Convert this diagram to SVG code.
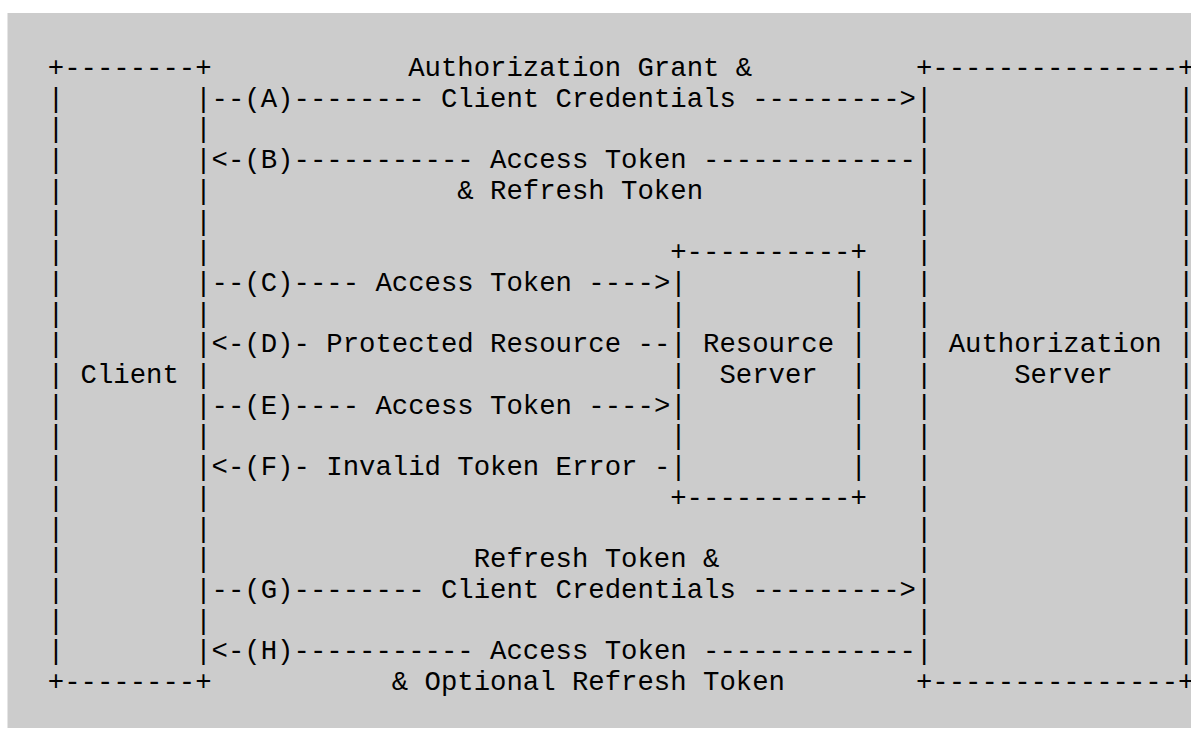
<svg xmlns="http://www.w3.org/2000/svg" width="1191" height="729" viewBox="0 0 1191 729">
  <style>
    .t { font-family: "Liberation Mono", "DejaVu Sans Mono", monospace; font-size: 27.3px; fill: #000000; white-space: pre; }
  </style>
  <rect x="7.5" y="13" width="1184" height="715" fill="#cccccc"/>
  <g id="client">
    <text class="t" xml:space="preserve">
      <tspan x="47.8" y="76">+--------+</tspan>
      <tspan x="47.8" y="106.7">|        |</tspan>
      <tspan x="47.8" y="137.4">|        |</tspan>
      <tspan x="47.8" y="168.1">|        |</tspan>
      <tspan x="47.8" y="198.8">|        |</tspan>
      <tspan x="47.8" y="229.5">|        |</tspan>
      <tspan x="47.8" y="260.2">|        |</tspan>
      <tspan x="47.8" y="290.9">|        |</tspan>
      <tspan x="47.8" y="321.6">|        |</tspan>
      <tspan x="47.8" y="352.3">|        |</tspan>
      <tspan x="47.8" y="383">| Client |</tspan>
      <tspan x="47.8" y="413.7">|        |</tspan>
      <tspan x="47.8" y="444.4">|        |</tspan>
      <tspan x="47.8" y="475.1">|        |</tspan>
      <tspan x="47.8" y="505.8">|        |</tspan>
      <tspan x="47.8" y="536.5">|        |</tspan>
      <tspan x="47.8" y="567.2">|        |</tspan>
      <tspan x="47.8" y="597.9">|        |</tspan>
      <tspan x="47.8" y="628.6">|        |</tspan>
      <tspan x="47.8" y="659.3">|        |</tspan>
      <tspan x="47.8" y="690">+--------+</tspan>
    </text>
  </g>
  <g id="resource-server">
    <text class="t" xml:space="preserve">
      <tspan x="670.24" y="260.2">+----------+</tspan>
      <tspan x="670.24" y="290.9">|          |</tspan>
      <tspan x="670.24" y="321.6">|          |</tspan>
      <tspan x="670.24" y="352.3">| Resource |</tspan>
      <tspan x="670.24" y="383">|  Server  |</tspan>
      <tspan x="670.24" y="413.7">|          |</tspan>
      <tspan x="670.24" y="444.4">|          |</tspan>
      <tspan x="670.24" y="475.1">|          |</tspan>
      <tspan x="670.24" y="505.8">+----------+</tspan>
    </text>
  </g>
  <g id="authorization-server">
    <text class="t" xml:space="preserve">
      <tspan x="915.94" y="76">+---------------+</tspan>
      <tspan x="915.94" y="106.7">|               |</tspan>
      <tspan x="915.94" y="137.4">|               |</tspan>
      <tspan x="915.94" y="168.1">|               |</tspan>
      <tspan x="915.94" y="198.8">|               |</tspan>
      <tspan x="915.94" y="229.5">|               |</tspan>
      <tspan x="915.94" y="260.2">|               |</tspan>
      <tspan x="915.94" y="290.9">|               |</tspan>
      <tspan x="915.94" y="321.6">|               |</tspan>
      <tspan x="915.94" y="352.3">| Authorization |</tspan>
      <tspan x="915.94" y="383">|     Server    |</tspan>
      <tspan x="915.94" y="413.7">|               |</tspan>
      <tspan x="915.94" y="444.4">|               |</tspan>
      <tspan x="915.94" y="475.1">|               |</tspan>
      <tspan x="915.94" y="505.8">|               |</tspan>
      <tspan x="915.94" y="536.5">|               |</tspan>
      <tspan x="915.94" y="567.2">|               |</tspan>
      <tspan x="915.94" y="597.9">|               |</tspan>
      <tspan x="915.94" y="628.6">|               |</tspan>
      <tspan x="915.94" y="659.3">|               |</tspan>
      <tspan x="915.94" y="690">+---------------+</tspan>
    </text>
  </g>
  <g id="connectors">
    <text class="t" xml:space="preserve" x="408.16" y="76">Authorization Grant &amp;</text>
    <text class="t" xml:space="preserve" x="211.6" y="106.7">--(A)-------- Client Credentials ---------&gt;</text>
    <text class="t" xml:space="preserve" x="211.6" y="168.1">&lt;-(B)----------- Access Token -------------</text>
    <text class="t" xml:space="preserve" x="457.3" y="198.8">&amp; Refresh Token</text>
    <text class="t" xml:space="preserve" x="211.6" y="290.9">--(C)---- Access Token ----&gt;</text>
    <text class="t" xml:space="preserve" x="211.6" y="352.3">&lt;-(D)- Protected Resource --</text>
    <text class="t" xml:space="preserve" x="211.6" y="413.7">--(E)---- Access Token ----&gt;</text>
    <text class="t" xml:space="preserve" x="211.6" y="475.1">&lt;-(F)- Invalid Token Error -</text>
    <text class="t" xml:space="preserve" x="473.68" y="567.2">Refresh Token &amp;</text>
    <text class="t" xml:space="preserve" x="211.6" y="597.9">--(G)-------- Client Credentials ---------&gt;</text>
    <text class="t" xml:space="preserve" x="211.6" y="659.3">&lt;-(H)----------- Access Token -------------</text>
    <text class="t" xml:space="preserve" x="391.78" y="690">&amp; Optional Refresh Token</text>
  </g>
</svg>
